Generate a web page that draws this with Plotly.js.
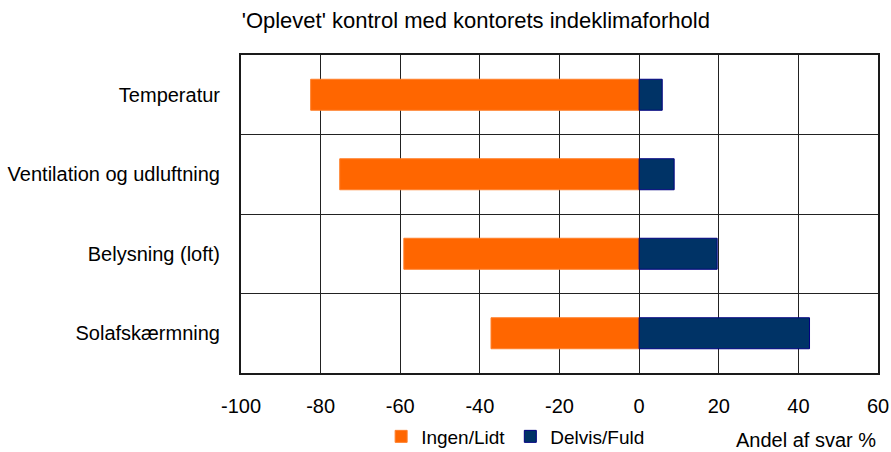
<!DOCTYPE html>
<html>
<head>
<meta charset="utf-8">
<script src="https://cdn.plot.ly/plotly-3.0.1.min.js"></script>
<style>
	html, body { margin: 0; padding: 0; background: #ffffff; }
	#chart { width: 891px; height: 452px; }
</style>
</head>
<body>
<div id="chart"></div>
<script>
	var categories = ['Temperatur', 'Ventilation og udluftning', 'Belysning (loft)', 'Solafskærmning'];
	var ingenLidt = [-82.5, -75.2, -59.1, -37.2];
	var delvisFuld = [5.8, 8.8, 19.6, 42.8];
	var xTicks = [-100, -80, -60, -40, -20, 0, 20, 40, 60];

	var ingen = {
		y : categories,
		x : ingenLidt,
		type : 'bar',
		orientation : 'h',
		name : 'Ingen/Lidt',
		width : 0.39,
		marker : {
			color : '#ff6600',
			line : { color : '#ff7f2a', width : 1 }
		},
		hoverinfo : 'x+y'
	};

	var delvis = {
		y : categories,
		x : delvisFuld,
		type : 'bar',
		orientation : 'h',
		name : 'Delvis/Fuld',
		width : 0.39,
		marker : {
			color : '#003366',
			line : { color : '#000080', width : 1 }
		},
		hoverinfo : 'x+y'
	};

	var data = [ingen, delvis];

	var layout = {
		width : 891,
		height : 452,
		margin : {
			l : 241,
			r : 13,
			t : 55,
			b : 79,
			autoexpand : false
		},
		paper_bgcolor : '#ffffff',
		plot_bgcolor : '#ffffff',
		font : {
			family : 'Liberation Sans, Arial, sans-serif',
			size : 20,
			color : '#000000'
		},
		title : {
			text : "'Oplevet' kontrol med kontorets indeklimaforhold",
			font : { size : 22, color : '#000000' },
			x : 0.534,
			xanchor : 'center',
			y : 0.955,
			yanchor : 'middle'
		},
		barmode : 'relative',
		showlegend : true,
		legend : {
			orientation : 'h',
			x : 0.22,
			xanchor : 'left',
			y : -0.14,
			yanchor : 'top',
			font : { size : 19 },
			itemwidth : 30,
			tracegroupgap : 0
		},
		xaxis : {
			range : [-100, 60],
			tickvals : xTicks,
			ticktext : xTicks.map(String),
			showgrid : true,
			gridcolor : '#222222',
			gridwidth : 1,
			zeroline : true,
			zerolinecolor : '#222222',
			zerolinewidth : 1,
			showline : true,
			linecolor : '#1a1a1a',
			linewidth : 2,
			mirror : true,
			ticks : '',
			ticklabelstandoff : 14,
			tickfont : { size : 20 },
			fixedrange : true
		},
		yaxis : {
			type : 'category',
			categoryorder : 'array',
			categoryarray : categories,
			autorange : 'reversed',
			tickson : 'boundaries',
			showgrid : true,
			gridcolor : '#222222',
			gridwidth : 1,
			showline : true,
			linecolor : '#1a1a1a',
			linewidth : 2,
			mirror : true,
			ticks : '',
			ticklabelstandoff : 15,
			tickfont : { size : 20 },
			fixedrange : true
		},
		annotations : [{
			text : 'Andel af svar %',
			xref : 'paper',
			yref : 'paper',
			x : 1,
			xanchor : 'right',
			y : -0.21,
			yanchor : 'middle',
			showarrow : false,
			font : { size : 20, color : '#000000' }
		}]
	};

	var config = {
		displayModeBar : false,
		staticPlot : true
	};
	Plotly.newPlot(document.getElementById('chart'), data, layout, config);
</script>
</body>
</html>
